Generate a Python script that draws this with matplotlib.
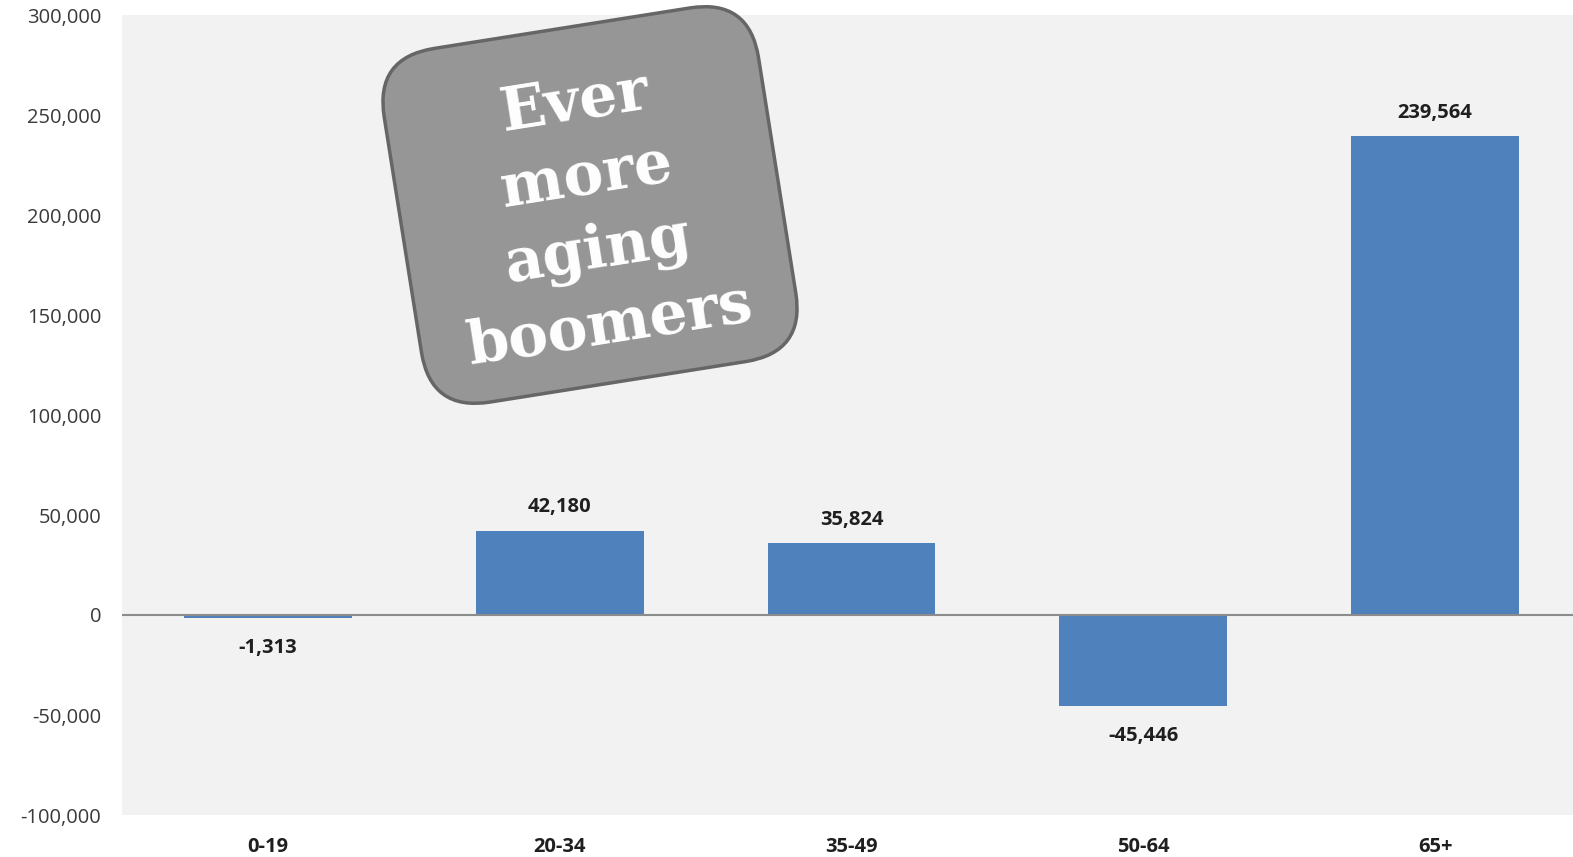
import matplotlib.pyplot as plt
from matplotlib.patches import FancyBboxPatch
from matplotlib.transforms import Affine2D
from matplotlib.ticker import FuncFormatter

# Population change by age group
age_groups = ['0-19', '20-34', '35-49', '50-64', '65+']
change = [-1313, 42180, 35824, -45446, 239564]
y_ticks = [-100000, -50000, 0, 50000, 100000, 150000, 200000, 250000, 300000]

bar_color = '#4f81bd'
plt.rcParams['font.family'] = ['Open Sans', 'DejaVu Sans']

fig = plt.figure(figsize=(15.73, 8.57), dpi=100)
ax = fig.add_axes([122 / 1573, 1 - 815 / 857, 1459 / 1573, 800 / 857])
ax.set_facecolor('#f2f2f2')

x = range(len(age_groups))
ax.bar(x, change, width=0.575, color=bar_color, zorder=2)
ax.axhline(0, color='#8c8c8c', linewidth=1.5, zorder=3)

# Value labels above/below each bar
for xi, v in zip(x, change):
    if v >= 0:
        ax.annotate(f'{v:,}', (xi, v), xytext=(0, 9.5), textcoords='offset points',
                    ha='center', va='bottom', fontsize=14.5, fontweight='bold', color='#1f1f1f')
    else:
        ax.annotate(f'{v:,}', (xi, v), xytext=(0, -14.5), textcoords='offset points',
                    ha='center', va='top', fontsize=14.5, fontweight='bold', color='#1f1f1f')

ax.set_xlim(-0.5, 4.5)
ax.set_ylim(-100000, 300000)
ax.set_yticks(y_ticks)
ax.yaxis.set_major_formatter(FuncFormatter(lambda v, p: f'{int(v):,}'))
ax.set_xticks(list(x))
ax.set_xticklabels(age_groups, fontweight='bold')
ax.tick_params(axis='y', length=0, pad=15, labelsize=14.5, labelcolor='#3a3a3a')
ax.tick_params(axis='x', length=0, pad=15.5, labelsize=14.5, labelcolor='#1f1f1f')
for s in ax.spines.values():
    s.set_visible(False)

# Tilted callout box
w, h = 3.79, 3.58
cx, cy = 5.90, 8.57 - 2.05
box = FancyBboxPatch((-w / 2, -h / 2), w, h,
                     boxstyle='round,pad=0,rounding_size=0.6',
                     facecolor='#969696', edgecolor='#666666', linewidth=2.5,
                     transform=Affine2D().rotate_deg(9).translate(cx, cy) + fig.dpi_scale_trans,
                     zorder=5)
fig.add_artist(box)
fig.text(5.92 / 15.73, (8.57 - 2.14) / 8.57, 'Ever\nmore\naging\nboomers',
         ha='center', va='center', rotation=9, rotation_mode='anchor',
         fontsize=43, fontweight='bold', color='white', family='DejaVu Serif',
         linespacing=1.37, zorder=6)

fig.savefig('out.png', dpi=100)
